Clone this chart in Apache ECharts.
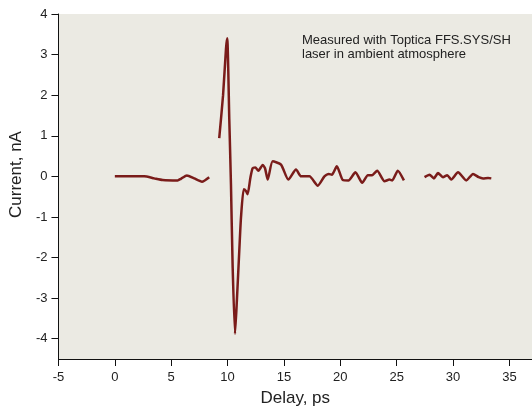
<!DOCTYPE html>
<html><head><meta charset="utf-8">
<script src="https://cdn.jsdelivr.net/npm/echarts@6/dist/echarts.min.js"></script>
<style>html,body{margin:0;padding:0;background:#fff}#c{width:532px;height:412px}</style>
</head><body><div id="c"></div>
<script>
// Delay (ps) and current (nA); null marks a gap in the measured trace
var delay = [0, 2.6, 3.49, 4.24, 5.57, 5.86, 6.39, 7.04, 7.73, 8.37, null,
  9.26, 9.6, 9.86, 9.97, 10.15, 10.3, 10.45, 10.66, 10.83, 11.04, 11.19, 11.43, 11.63, 11.78, 12.02, 12.22, 12.46, 12.73, 13.12, 13.32, 13.56, 14.0, 14.74, 15.39, 16.07, 16.52, 17.26, 18.0, 18.59, 18.98, 19.25, 19.69, 20.22, 20.72, 21.34, 21.94, 22.44, 22.82, 23.27, 23.92, 24.36, 24.6, 25.1, 25.64, null,
  27.47, 27.91, 28.3, 28.66, 29.1, 29.48, 29.84, 30.44, 31.17, 31.77, 32.27, 32.66, 33.1, 33.39];
var current = [0, 0, -0.05, -0.09, -0.1, -0.06, 0.02, -0.05, -0.13, -0.02, null,
  0.94, 2.0, 3.15, 3.4, 1.42, -0.2, -2.23, -3.88, -3.03, -1.82, -1.01, -0.32, -0.36, -0.44, -0.04, 0.2, 0.22, 0.14, 0.28, 0.2, -0.08, 0.37, 0.29, -0.08, 0.17, 0, 0, -0.23, 0, 0.06, 0.04, 0.25, -0.09, -0.1, 0.1, -0.16, 0.03, 0.03, 0.14, -0.12, -0.08, -0.1, 0.14, -0.1, null,
  -0.02, 0.04, -0.05, 0.08, -0.02, 0.03, -0.08, 0.1, -0.1, 0.06, -0.02, -0.05, -0.04, -0.05];
var yTicks = [-4, -3, -2, -1, 0, 1, 2, 3, 4];
var note = ['Measured with Toptica FFS.SYS/SH', 'laser in ambient atmosphere'];

var pts = delay.map(function (d, i) { return d === null ? [null, null] : [d, current[i]]; });
var font = 'Liberation Sans, Arial, sans-serif';
var chart = echarts.init(document.getElementById('c'), null, {renderer: 'canvas'});
chart.setOption({
  animation: false,
  backgroundColor: '#ffffff',
  grid: {left: 58, top: 14, right: 0, bottom: 48, show: true, backgroundColor: '#EBEAE3', borderWidth: 0},
  xAxis: {
    type: 'value', min: -5, max: 37, interval: 5,
    name: 'Delay, ps', nameLocation: 'middle', nameGap: 31,
    nameTextStyle: {fontFamily: font, fontSize: 17, color: '#222'},
    axisLine: {show: true, onZero: false, lineStyle: {color: '#111', width: 1}},
    axisTick: {show: true, length: 7, lineStyle: {color: '#111'}},
    axisLabel: {fontFamily: font, fontSize: 13, color: '#222', margin: 12, showMaxLabel: false},
    splitLine: {show: false}
  },
  yAxis: {
    type: 'value', min: -4.5, max: 4,
    name: 'Current, nA', nameLocation: 'middle', nameGap: 33,
    nameTextStyle: {fontFamily: font, fontSize: 17, color: '#222', padding: [0, 0, 0, 24]},
    axisLine: {show: true, onZero: false, lineStyle: {color: '#111', width: 1}},
    axisTick: {show: true, length: 7, lineStyle: {color: '#111'}, customValues: yTicks},
    axisLabel: {fontFamily: font, fontSize: 13, color: '#222', margin: 11, customValues: yTicks},
    splitLine: {show: false}
  },
  graphic: [{
    type: 'text', left: 302, top: 33,
    style: {text: note.join('\n'), font: '13px ' + font, fill: '#222', lineHeight: 14.5}
  }],
  series: [{
    type: 'line', data: pts, showSymbol: false, connectNulls: false, smooth: 0.2,
    lineStyle: {color: '#7A1C1A', width: 2.5}
  }]
});
</script></body></html>
